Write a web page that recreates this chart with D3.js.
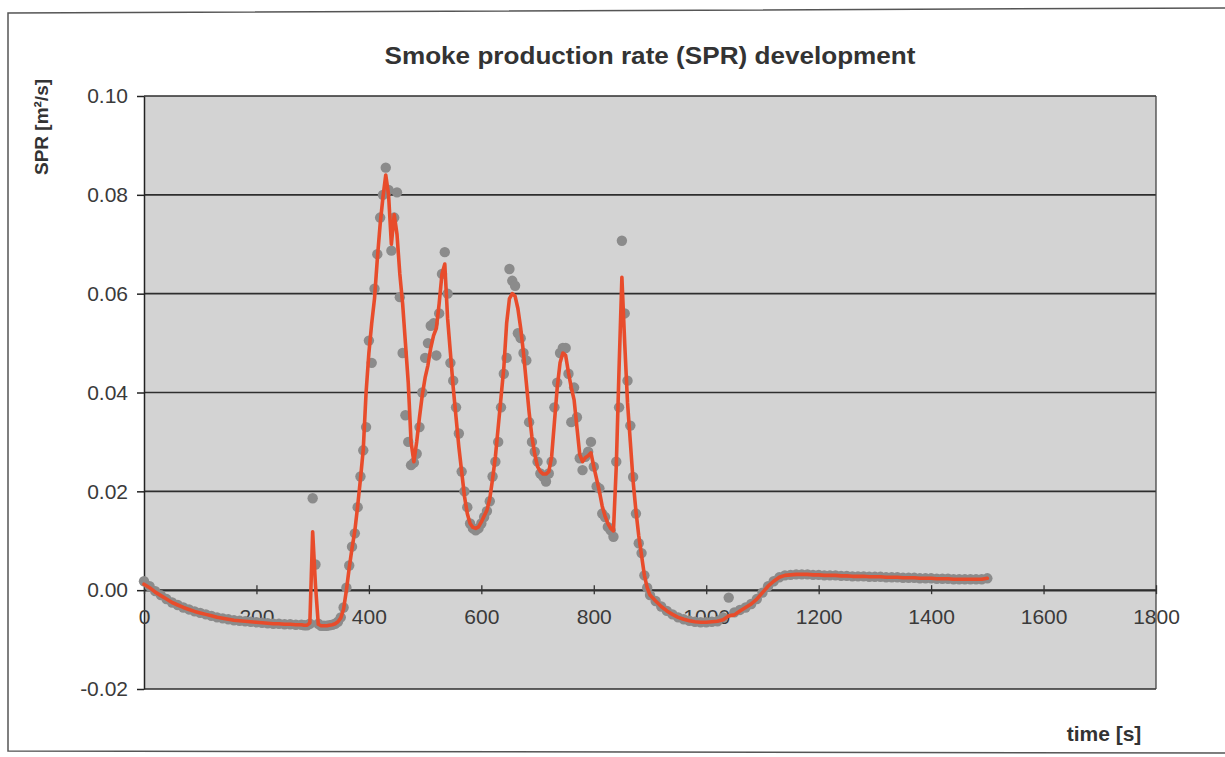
<!DOCTYPE html>
<html><head><meta charset="utf-8">
<script src="https://cdn.jsdelivr.net/npm/d3@7"></script>
<style>
body{margin:0;background:#fff;}
svg{display:block;font-family:"Liberation Sans",Arial,sans-serif;}
</style>
</head><body>
<svg id="chart" width="1225" height="757"></svg>
<script>
// ---- DATA ----
const chartTitle = "Smoke production rate (SPR) development";
const yTitle = "SPR [m²/s]";
const xTitle = "time [s]";
const xTicks = [0,200,400,600,800,1000,1200,1400,1600,1800];
const yTicks = [-0.02,0.00,0.02,0.04,0.06,0.08,0.10];

// time of each sample [s]
const timeS = [
 0,10,20,30,40,50,60,70,80,90,100,110,120,130,140,150,160,170,180,190,200,210,220,230,240,250,260,270,280,
 285,290,295,300,305,310,315,320,325,330,335,340,345,350,355,360,365,370,375,380,385,390,395,400,405,410,415,420,425,430,435,440,445,450,455,460,465,470,475,480,485,490,495,500,
 505,510,515,520,525,530,535,540,545,550,555,560,565,570,575,580,585,590,595,600,605,610,615,620,625,630,635,640,645,650,655,660,665,670,675,680,685,690,695,700,
 705,710,715,720,725,730,735,740,745,750,755,760,765,770,775,780,785,790,795,800,805,810,815,820,825,830,835,840,845,850,855,860,865,870,875,880,885,890,895,900,
 910,920,930,940,950,960,970,980,990,1000,1010,1020,1030,1040,1050,1060,1070,1080,1090,1100,1110,1120,1130,1140,1150,1160,1170,1180,1190,1200,
 1210,1220,1230,1240,1250,1260,1270,1280,1290,1300,1310,1320,1330,1340,1350,1360,1370,1380,1390,1400,1410,1420,1430,1440,1450,1460,1470,1480,1490,1500
];
// measured SPR (grey markers) [m2/s]
const sprMeasured = [
 0.0018,0.0008,-0.0002,-0.0010,-0.0018,-0.0025,-0.0030,-0.0035,-0.0039,-0.0043,-0.0046,-0.0049,-0.0052,-0.0055,-0.0057,-0.0059,-0.0061,-0.0062,-0.0063,-0.0064,-0.0065,-0.0066,-0.0067,-0.0068,-0.0068,-0.0069,-0.0069,-0.0070,-0.0070,
 -0.0071,-0.0071,-0.0068,0.0186,0.0052,-0.0068,-0.0072,-0.0072,-0.0072,-0.0071,-0.0070,-0.0068,-0.0064,-0.0055,-0.0035,0.0005,0.0050,0.0088,0.0115,0.0168,0.0230,0.0283,0.0330,0.0505,0.0460,0.0610,0.0680,0.0754,0.0800,0.0855,0.0810,0.0687,0.0754,0.0805,0.0593,0.0480,0.0354,0.0300,0.0253,0.0258,0.0276,0.0330,0.0400,0.0470,
 0.0500,0.0535,0.0540,0.0475,0.0560,0.0640,0.0684,0.0600,0.0460,0.0424,0.0370,0.0317,0.0240,0.0200,0.0168,0.0135,0.0125,0.0121,0.0125,0.0135,0.0148,0.0160,0.0180,0.0230,0.0260,0.0300,0.0370,0.0438,0.0470,0.0650,0.0626,0.0616,0.0520,0.0510,0.0480,0.0465,0.0340,0.0300,0.0280,0.0260,
 0.0236,0.0230,0.0220,0.0236,0.0260,0.0370,0.0420,0.0480,0.0490,0.0490,0.0438,0.0340,0.0410,0.0350,0.0267,0.0243,0.0270,0.0280,0.0300,0.0250,0.0210,0.0206,0.0155,0.0148,0.0128,0.0121,0.0108,0.0260,0.0370,0.0707,0.0560,0.0424,0.0333,0.0229,0.0155,0.0095,0.0075,0.0030,0.0005,-0.0010,
 -0.0022,-0.0033,-0.0042,-0.0049,-0.0055,-0.0059,-0.0062,-0.0064,-0.0065,-0.0065,-0.0064,-0.0063,-0.0055,-0.0015,-0.0045,-0.0040,-0.0035,-0.0028,-0.0018,-0.0005,0.0008,0.0018,0.0026,0.0030,0.0031,0.0032,0.0032,0.0032,0.0031,0.0031,
 0.0030,0.0030,0.0030,0.0029,0.0029,0.0028,0.0028,0.0028,0.0027,0.0027,0.0027,0.0026,0.0026,0.0026,0.0025,0.0025,0.0025,0.0024,0.0024,0.0024,0.0023,0.0023,0.0023,0.0022,0.0022,0.0022,0.0022,0.0022,0.0022,0.0024
];
// smoothed SPR (red line) [m2/s]
const sprSmoothed = [
 0.0012,0.0005,-0.0004,-0.0011,-0.0018,-0.0025,-0.0030,-0.0035,-0.0039,-0.0043,-0.0046,-0.0049,-0.0052,-0.0055,-0.0057,-0.0059,-0.0061,-0.0062,-0.0063,-0.0064,-0.0065,-0.0066,-0.0067,-0.0068,-0.0068,-0.0069,-0.0069,-0.0070,-0.0070,
 -0.0071,-0.0071,-0.0066,0.0118,0.0010,-0.0069,-0.0072,-0.0072,-0.0072,-0.0071,-0.0070,-0.0068,-0.0064,-0.0056,-0.0038,0.0000,0.0045,0.0085,0.0120,0.0170,0.0225,0.0285,0.0400,0.0480,0.0540,0.0590,0.0670,0.0740,0.0795,0.0840,0.0800,0.0700,0.0760,0.0720,0.0640,0.0580,0.0500,0.0420,0.0300,0.0260,0.0300,0.0350,0.0395,0.0430,
 0.0455,0.0490,0.0515,0.0530,0.0580,0.0640,0.0660,0.0550,0.0480,0.0410,0.0350,0.0290,0.0240,0.0190,0.0155,0.0135,0.0127,0.0125,0.0128,0.0138,0.0150,0.0162,0.0185,0.0225,0.0270,0.0330,0.0390,0.0450,0.0540,0.0590,0.0600,0.0595,0.0570,0.0530,0.0480,0.0420,0.0360,0.0310,0.0275,0.0250,
 0.0240,0.0235,0.0235,0.0240,0.0270,0.0340,0.0410,0.0460,0.0480,0.0475,0.0440,0.0410,0.0385,0.0330,0.0275,0.0260,0.0268,0.0272,0.0278,0.0250,0.0225,0.0200,0.0170,0.0150,0.0135,0.0125,0.0120,0.0250,0.0450,0.0633,0.0500,0.0380,0.0300,0.0220,0.0160,0.0110,0.0070,0.0030,0.0005,-0.0010,
 -0.0022,-0.0033,-0.0042,-0.0049,-0.0055,-0.0059,-0.0062,-0.0064,-0.0065,-0.0065,-0.0064,-0.0063,-0.0060,-0.0052,-0.0050,-0.0042,-0.0035,-0.0028,-0.0018,-0.0005,0.0008,0.0018,0.0026,0.0030,0.0031,0.0032,0.0032,0.0032,0.0031,0.0031,
 0.0030,0.0030,0.0030,0.0029,0.0029,0.0028,0.0028,0.0028,0.0027,0.0027,0.0027,0.0026,0.0026,0.0026,0.0025,0.0025,0.0025,0.0024,0.0024,0.0024,0.0023,0.0023,0.0023,0.0022,0.0022,0.0022,0.0022,0.0022,0.0022,0.0024
];

// ---- DRAW ----
const svg = d3.select("#chart");
const plot = {left:144, right:1156, top:96, bottom:689};
const x = d3.scaleLinear().domain([0,1800]).range([plot.left, plot.right]);
const y = d3.scaleLinear().domain([-0.02,0.10]).range([plot.bottom, plot.top]);

svg.append("rect").attr("width",1225).attr("height",757).attr("fill","#fff");

// outer chart frame (scanned page)
svg.append("path")
  .attr("d","M1225,8 L8,13 L8,751 L1225,753")
  .attr("fill","none").attr("stroke","#555").attr("stroke-width",1.5);

// plot area
svg.append("rect")
  .attr("x",plot.left).attr("y",plot.top)
  .attr("width",plot.right-plot.left).attr("height",plot.bottom-plot.top)
  .attr("fill","#d3d3d3");

// gridlines
svg.append("g").selectAll("line").data(yTicks).join("line")
  .attr("x1",plot.left).attr("x2",plot.right)
  .attr("y1",d=>y(d)).attr("y2",d=>y(d))
  .attr("stroke","#2e2e2e").attr("stroke-width",1.6);
svg.append("line")
  .attr("x1",plot.right).attr("x2",plot.right).attr("y1",plot.top).attr("y2",plot.bottom)
  .attr("stroke","#444").attr("stroke-width",1.3);

// y axis
const yAxis = svg.append("g").attr("transform",`translate(${plot.left},0)`)
  .call(d3.axisLeft(y).tickValues(yTicks).tickSizeInner(7).tickSizeOuter(0).tickPadding(9)
    .tickFormat(d=>d.toFixed(2)));
yAxis.select(".domain").attr("stroke","#222").attr("stroke-width",1.5);
yAxis.selectAll(".tick line").attr("stroke","#222").attr("stroke-width",1.5);
yAxis.selectAll("text").attr("font-size",21).attr("fill","#3a3a3a")
  .attr("font-family","'Liberation Sans',Arial,sans-serif");

// x axis at y = 0
const xAxis = svg.append("g").attr("transform",`translate(0,${y(0)})`)
  .call(d3.axisBottom(x).tickValues(xTicks).tickSize(0).tickPadding(19).tickFormat(d3.format("d")));
xAxis.select(".domain").attr("stroke","#2e2e2e").attr("stroke-width",1.6);
xAxis.selectAll("text").attr("font-size",21).attr("fill","#3a3a3a")
  .attr("font-family","'Liberation Sans',Arial,sans-serif");
xAxis.selectAll(".tick").append("line")
  .attr("y1",-5).attr("y2",4).attr("stroke","#333").attr("stroke-width",1.3);

// measured markers
svg.append("g").selectAll("circle").data(timeS).join("circle")
  .attr("cx",d=>x(d)).attr("cy",(d,i)=>y(sprMeasured[i]))
  .attr("r",5.2).attr("fill","#8b8b8b");

// smoothed line
const line = d3.line().x(d=>x(d)).y((d,i)=>y(sprSmoothed[i]));
svg.append("path").datum(timeS).attr("d",line)
  .attr("fill","none").attr("stroke","#e84c2b").attr("stroke-width",3.6)
  .attr("stroke-linejoin","round").attr("stroke-linecap","round");

// titles
svg.append("text").attr("x",650).attr("y",64).attr("text-anchor","middle")
  .attr("font-size",23).attr("font-weight","bold").attr("fill","#333")
  .attr("textLength",531).attr("lengthAdjust","spacingAndGlyphs")
  .text(chartTitle);
svg.append("text").attr("transform","translate(48,127) rotate(-90)")
  .attr("text-anchor","middle").attr("font-size",19).attr("font-weight","bold").attr("fill","#333")
  .text(yTitle);
svg.append("text").attr("x",1104).attr("y",741).attr("text-anchor","middle")
  .attr("font-size",21).attr("font-weight","bold").attr("fill","#333")
  .text(xTitle);
</script>
</body></html>
